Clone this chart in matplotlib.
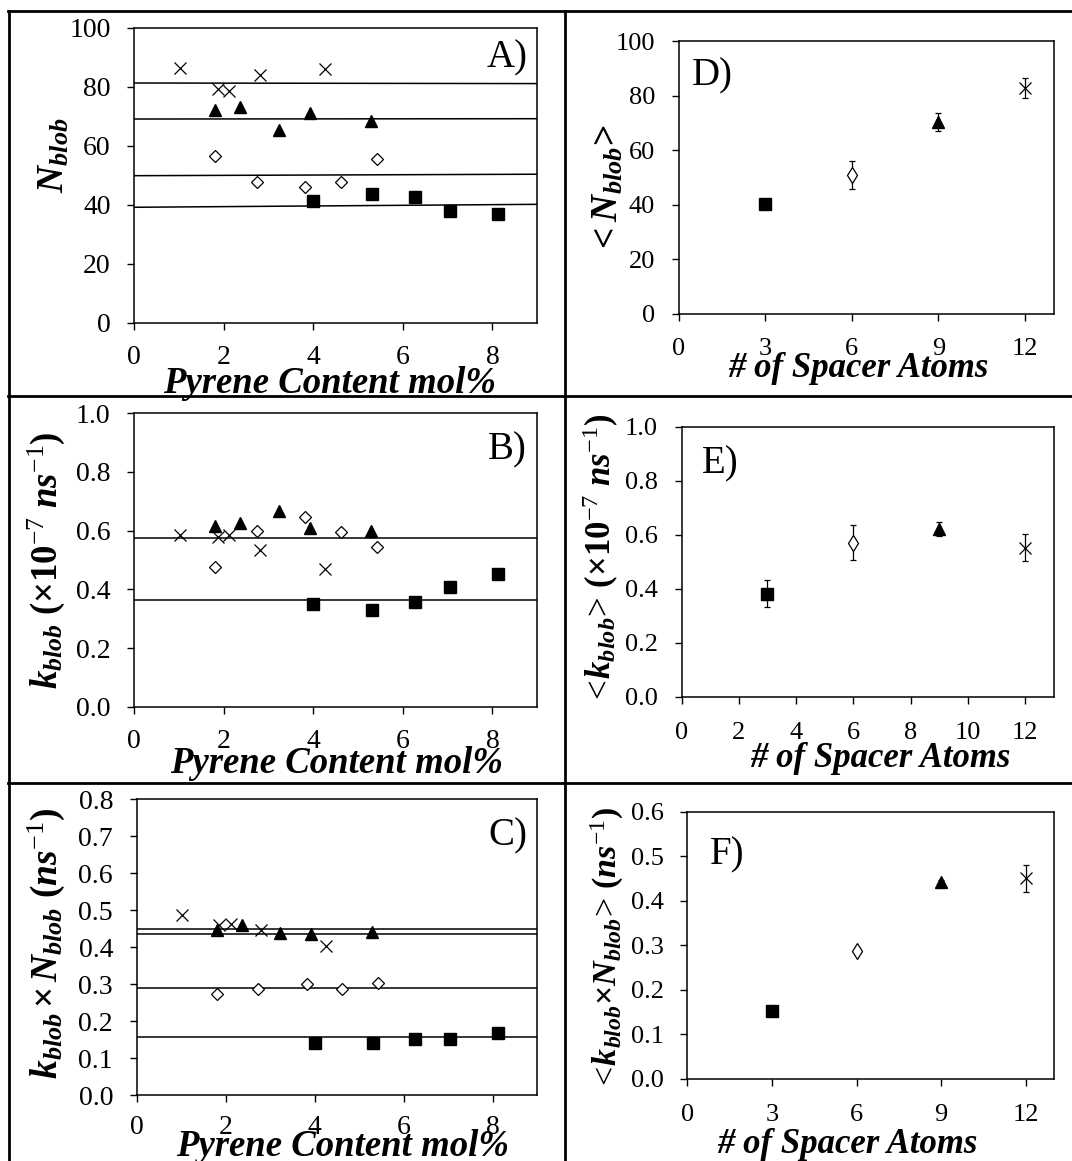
import matplotlib
matplotlib.use('Agg')
import numpy as np
from matplotlib import pyplot as plt
from matplotlib.lines import Line2D

plt.rcParams['font.family'] = ['Liberation Serif', 'DejaVu Serif']
plt.rcParams['mathtext.fontset'] = 'custom'
plt.rcParams['mathtext.rm'] = 'Liberation Serif'
plt.rcParams['mathtext.it'] = 'Liberation Serif:italic'
plt.rcParams['mathtext.bf'] = 'Liberation Serif:bold'
plt.rcParams['mathtext.bfit'] = 'Liberation Serif:bold:italic'

# pyrene content (mol%) for each spacer series
x_cross = [1.02, 1.86, 2.11, 2.80, 4.25]
x_tri = [1.80, 2.37, 3.23, 3.92, 5.28]
x_dia = [1.80, 2.73, 3.82, 4.61, 5.43]
x_sq = [4.00, 5.30, 6.26, 7.05, 8.13]

# panel A: Nblob
A_cross = [86.2, 79.2, 78.4, 83.9, 86.0]
A_tri = [72.2, 73.0, 65.3, 71.2, 68.3]
A_dia = [56.6, 47.5, 46.0, 47.8, 55.4]
A_sq = [41.1, 43.5, 42.6, 37.9, 36.8]
A_line_start = [81.2, 69.0, 49.8, 39.1]
A_line_end = [81.0, 69.1, 50.3, 40.1]

# panel B: kblob
B_cross = [0.586, 0.580, 0.584, 0.533, 0.469]
B_tri = [0.615, 0.625, 0.666, 0.610, 0.598]
B_dia = [0.478, 0.600, 0.647, 0.594, 0.545]
B_sq = [0.352, 0.331, 0.358, 0.407, 0.453]
B_line = [0.574, 0.364]

# panel C: kblob x Nblob
C_cross = [0.487, 0.459, 0.463, 0.447, 0.403]
C_tri = [0.447, 0.459, 0.437, 0.435, 0.440]
C_dia = [0.273, 0.287, 0.300, 0.286, 0.302]
C_sq = [0.141, 0.142, 0.152, 0.153, 0.167]
C_line = [0.449, 0.436, 0.289, 0.156]

# panels D-F: averages vs spacer length (square, diamond, triangle, cross)
spacer = [3, 6, 9, 12]
D_mean = [40.3, 50.8, 70.3, 82.9]
D_err = [1.5, 5.1, 3.2, 3.7]
E_mean = [0.381, 0.571, 0.622, 0.551]
E_err = [0.05, 0.065, 0.025, 0.05]
F_mean = [0.152, 0.288, 0.442, 0.450]
F_err = [0.005, 0.005, 0.005, 0.031]

W, H = 1072, 1161
fig = plt.figure(figsize=(W / 100, H / 100), dpi=100)


def rect(l, t, r, b):
    return [l / W, 1 - b / H, (r - l) / W, (b - t) / H]


def style(ax, xlim, ylim, xticks, yticks, yfmt, size, xpad):
    ax.set_xlim(*xlim)
    ax.set_ylim(*ylim)
    ax.set_xticks(xticks)
    ax.set_yticks(yticks)
    ax.set_yticklabels([yfmt.format(v) for v in yticks])
    ax.tick_params(direction='out', length=5, width=1, labelsize=size,
                   top=False, right=False)
    ax.tick_params(axis='x', pad=xpad)
    ax.tick_params(axis='y', pad=12)
    for s in ax.spines.values():
        s.set_linewidth(1.1)


def xlab(ax, text, size, xc, yb):
    ax.set_xlabel(text, fontsize=size, fontweight='bold', fontstyle='italic')
    ax.xaxis.label.set_verticalalignment('baseline')
    ax.xaxis.set_label_coords(xc, yb)


def ylab(ax, text, size, xr, yc):
    ax.set_ylabel(text, fontsize=size)
    ax.yaxis.set_label_coords(xr, yc)


mk = dict(linestyle='none')
sq_kw = dict(marker='s', ms=8.2, color='k', **mk)
tri_kw = dict(marker='^', ms=8.5, color='k', **mk)
dia_kw = dict(marker='D', ms=6.5, mfc='white', mec='k', mew=0.9, **mk)
cross_kw = dict(marker='x', ms=8.5, color='k', mew=0.9, **mk)

# ---- A ----
axA = fig.add_axes(rect(134.3, 27.5, 537.2, 322.7))
for y0, y1 in zip(A_line_start, A_line_end):
    axA.plot([0, 9], [y0, y1], color='k', lw=1.1)
axA.plot(x_cross, A_cross, **cross_kw)
axA.plot(x_tri, A_tri, **tri_kw)
axA.plot(x_dia, A_dia, **dia_kw)
axA.plot(x_sq, A_sq, **sq_kw)
style(axA, (0, 9), (0, 100), [0, 2, 4, 6, 8], np.arange(0, 101, 20), '{:.0f}', 20, 11)
xlab(axA, 'Pyrene Content mol%', 26.5, 0.485, -0.237)
ylab(axA, r'$\mathbfit{N}_{\mathbfit{blob}}$', 27, -0.155, 0.568)
axA.text(0.975, 0.866, 'A)', transform=axA.transAxes, fontsize=28, ha='right', va='baseline')

# ---- B ----
axB = fig.add_axes(rect(134.3, 413.2, 537.2, 707.0))
for y in B_line:
    axB.axhline(y, color='k', lw=1.1)
axB.plot(x_cross, B_cross, **cross_kw)
axB.plot(x_tri, B_tri, **tri_kw)
axB.plot(x_dia, B_dia, **dia_kw)
axB.plot(x_sq, B_sq, **sq_kw)
style(axB, (0, 9), (0, 1), [0, 2, 4, 6, 8], np.arange(0, 1.01, 0.2), '{:.1f}', 20, 11)
xlab(axB, 'Pyrene Content mol%', 26.5, 0.503, -0.223)
ylab(axB, r'$\mathbfit{k}_{\mathbfit{blob}}\ \mathbf{(\times10}^{-7}\ \mathbfit{ns}^{-1}\mathbf{)}$',
     26.5, -0.167, 0.499)
axB.text(0.975, 0.844, 'B)', transform=axB.transAxes, fontsize=28, ha='right', va='baseline')

# ---- C ----
axC = fig.add_axes(rect(136.7, 799.1, 537.2, 1095.2))
for y in C_line:
    axC.axhline(y, color='k', lw=1.1)
axC.plot(x_cross, C_cross, **cross_kw)
axC.plot(x_tri, C_tri, **tri_kw)
axC.plot(x_dia, C_dia, **dia_kw)
axC.plot(x_sq, C_sq, **sq_kw)
style(axC, (0, 9), (0, 0.8), [0, 2, 4, 6, 8], np.arange(0, 0.81, 0.1), '{:.1f}', 20, 9.5)
xlab(axC, 'Pyrene Content mol%', 26.5, 0.514, -0.205)
ylab(axC, r'$\mathbfit{k}_{\mathbfit{blob}}\,\mathbf{\times}\,\mathbfit{N}_{\mathbfit{blob}}\ \mathbf{(}\mathbfit{ns}^{-1}\mathbf{)}$',
     27, -0.174, 0.512)
axC.text(0.975, 0.843, 'C)', transform=axC.transAxes, fontsize=28, ha='right', va='baseline')

# ---- D, E, F ----
right_markers = [dict(marker='s', ms=8.2, color='k'),
                 dict(marker='d', ms=8.0, mfc='white', mec='k', mew=0.9),
                 dict(marker='^', ms=8.5, color='k'),
                 dict(marker='x', ms=8.5, color='k', mew=0.9)]


def avg_panel(ax, means, errs):
    for xi, m, e, kw in zip(spacer, means, errs, right_markers):
        ax.errorbar([xi], [m], yerr=[e], ecolor='k', elinewidth=0.9, capsize=2.5,
                    capthick=0.9, linestyle='none', **kw)


axD = fig.add_axes(rect(678.8, 41.1, 1053.8, 314.0))
avg_panel(axD, D_mean, D_err)
style(axD, (0, 13), (0, 100), [0, 3, 6, 9, 12], np.arange(0, 101, 20), '{:.0f}', 19, 12)
xlab(axD, '# of Spacer Atoms', 25, 0.479, -0.231)
ylab(axD, r'$\!\mathbf{<}\mathbfit{N}_{\mathbfit{blob}}\!\mathbf{>}\!$', 27, -0.141, 0.467)
axD.text(0.035, 0.837, 'D)', transform=axD.transAxes, fontsize=28, ha='left', va='baseline')

axE = fig.add_axes(rect(681.6, 426.8, 1053.8, 696.6))
avg_panel(axE, E_mean, E_err)
style(axE, (0, 13), (0, 1), [0, 2, 4, 6, 8, 10, 12], np.arange(0, 1.01, 0.2), '{:.1f}', 19, 13)
xlab(axE, '# of Spacer Atoms', 25, 0.535, -0.260)
ylab(axE, r'$\!<\!\mathbfit{k}_{\mathbfit{blob}}\!>\!\ \mathbf{(\times10}^{-7}\ \mathbfit{ns}^{-1}\mathbf{)}$',
     25, -0.164, 0.517)
axE.text(0.055, 0.827, 'E)', transform=axE.transAxes, fontsize=28, ha='left', va='baseline')

axF = fig.add_axes(rect(687.4, 811.6, 1053.8, 1078.8))
avg_panel(axF, F_mean, F_err)
style(axF, (0, 13), (0, 0.6), [0, 3, 6, 9, 12], np.arange(0, 0.61, 0.1), '{:.1f}', 19, 13)
xlab(axF, '# of Spacer Atoms', 25, 0.435, -0.279)
ylab(axF, r'$\!<\!\mathbfit{k}_{\mathbfit{blob}}\mathbf{\times}\mathbfit{N}_{\mathbfit{blob}}\!>\!\ \mathbf{(}\mathbfit{ns}^{-1}\mathbf{)}$',
     24.5, -0.168, 0.497)
axF.text(0.0625, 0.801, 'F)', transform=axF.transAxes, fontsize=28, ha='left', va='baseline')

# table grid around the panels
grid_kw = dict(color='k', lw=2.0, transform=fig.transFigure)
fig.add_artist(Line2D([8.6 / W, 8.6 / W], [0, 1 - 11.4 / H], **grid_kw))
fig.add_artist(Line2D([565 / W, 565 / W], [0, 1 - 11.4 / H], **grid_kw))
for yy in [11.4, 396.4, 782.6]:
    fig.add_artist(Line2D([7.6 / W, 1], [1 - yy / H, 1 - yy / H], **grid_kw))

fig.savefig('out.png', dpi=100)
